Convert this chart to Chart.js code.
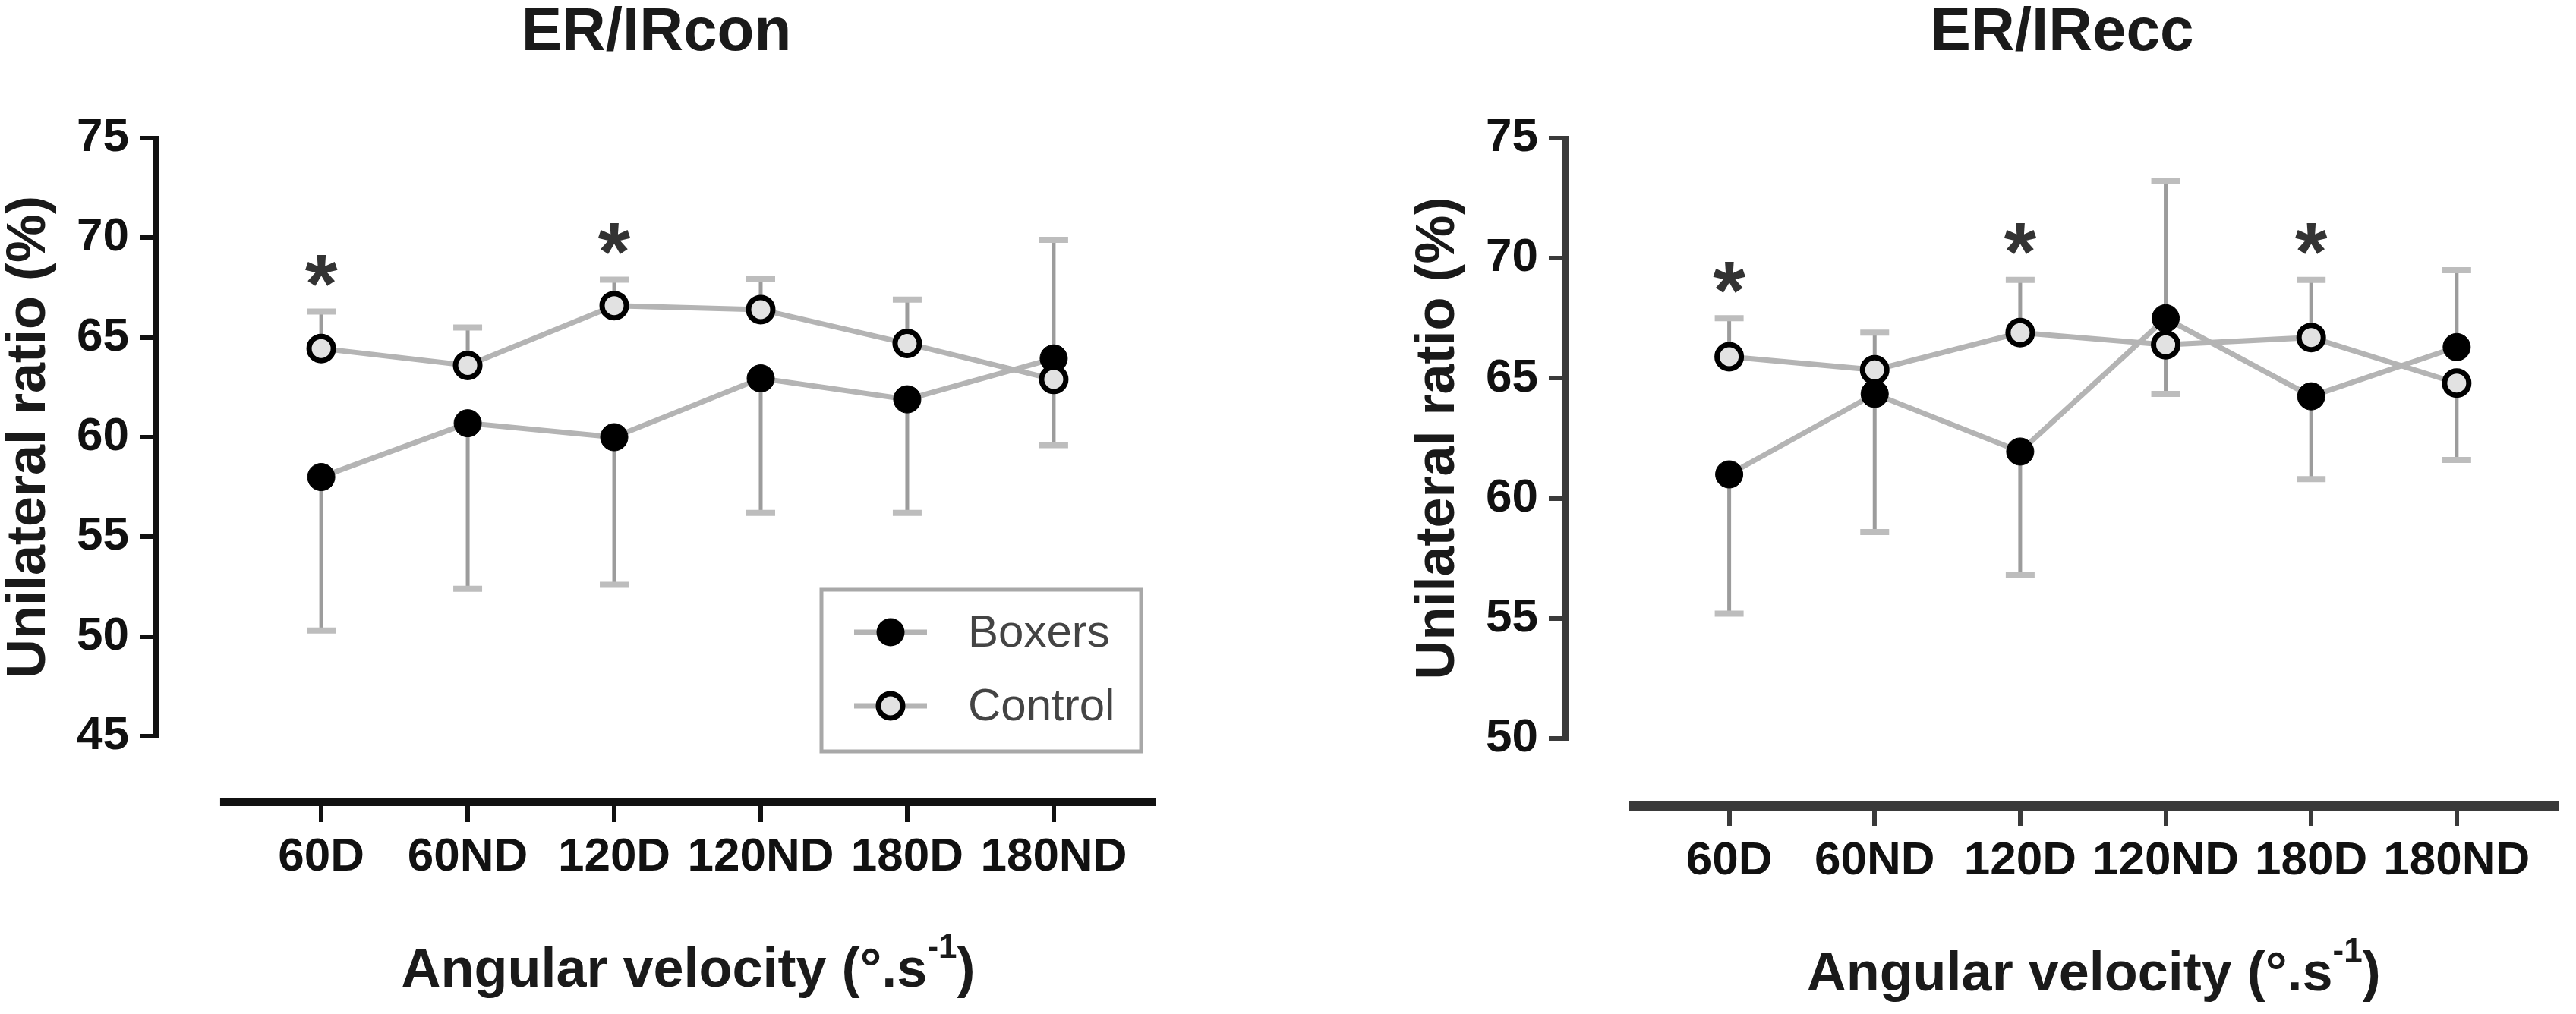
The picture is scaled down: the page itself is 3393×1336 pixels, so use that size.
<!DOCTYPE html>
<html>
<head>
<meta charset="utf-8">
<script src="https://cdn.jsdelivr.net/npm/chart.js@4.4.1/dist/chart.umd.min.js"></script>
<style>
  html, body { margin: 0; padding: 0; background: #fff; }
  #wrap { position: relative; width: 3393px; height: 1336px; }
  canvas { position: absolute; top: 0; }
</style>
</head>
<body>
<div id="wrap">
  <canvas id="conChart" width="1696" height="1336" style="left:0"></canvas>
  <canvas id="eccChart" width="1697" height="1336" style="left:1696px"></canvas>
</div>
<script>
const velocities = ['60D', '60ND', '120D', '120ND', '180D', '180ND'];
const yTicksCon = [45, 50, 55, 60, 65, 70, 75];
const yTicksEcc = [50, 55, 60, 65, 70, 75];

// ER/IR concentric
const boxersCon = [58.0, 60.7, 60.0, 62.95, 61.9, 63.95];
const boxersConErr = [50.3, 52.4, 52.6, 56.2, 56.2, 69.9];   // end of the error bar
const controlCon = [64.45, 63.6, 66.6, 66.4, 64.7, 62.9];
const controlConErr = [66.3, 65.5, 67.9, 67.95, 66.9, 59.6];
const sigCon = [true, false, true, false, false, false];

// ER/IR eccentric
const boxersEcc = [61.0, 64.35, 61.95, 67.5, 64.25, 66.3];
const boxersEccErr = [55.2, 58.6, 56.8, 73.2, 60.8, 69.5];
const controlEcc = [65.9, 65.35, 66.9, 66.4, 66.7, 64.8];
const controlEccErr = [67.5, 66.9, 69.1, 64.35, 69.1, 61.6];
const sigEcc = [true, false, true, false, true, false];

const FONT = '"Liberation Sans", Arial, sans-serif';
const LINE_GREY = '#b4b4b4';
const CONTROL_FILL = '#e2e2e2';

function drawMarker(ctx, x, y, filled) {
  ctx.save();
  ctx.beginPath();
  if (filled) {
    ctx.arc(x, y, 18.5, 0, Math.PI * 2);
    ctx.fillStyle = '#000';
    ctx.fill();
  } else {
    ctx.arc(x, y, 16, 0, Math.PI * 2);
    ctx.fillStyle = CONTROL_FILL;
    ctx.fill();
    ctx.lineWidth = 7;
    ctx.strokeStyle = '#000';
    ctx.stroke();
  }
  ctx.restore();
}

const figurePlugin = {
  id: 'figure',
  beforeDatasetsDraw(chart, args, o) {
    const ctx = chart.ctx, xs = chart.scales.x, ys = chart.scales.y;
    ctx.save();
    chart.data.datasets.forEach(ds => {
      ds.errorEnds.forEach((e, i) => {
        const px = xs.getPixelForValue(i);
        const p0 = ys.getPixelForValue(ds.data[i].y);
        const p1 = ys.getPixelForValue(e);
        ctx.strokeStyle = '#9c9c9c';
        ctx.lineWidth = 5;
        ctx.beginPath();
        ctx.moveTo(px, p0);
        ctx.lineTo(px, p1);
        ctx.stroke();
        ctx.strokeStyle = '#bdbdbd';
        ctx.lineWidth = 8;
        ctx.beginPath();
        ctx.moveTo(px - 19, p1);
        ctx.lineTo(px + 19, p1);
        ctx.stroke();
      });
    });
    ctx.restore();
  },
  afterDatasetsDraw(chart, args, o) {
    const ctx = chart.ctx, xs = chart.scales.x, ys = chart.scales.y;
    ctx.save();
    // significance stars
    ctx.font = 'bold 110px ' + FONT;
    ctx.fillStyle = '#333';
    ctx.textAlign = 'center';
    ctx.textBaseline = 'alphabetic';
    const m = ctx.measureText('*');
    o.sig.forEach((s, i) => {
      if (!s) return;
      let top = -Infinity;
      chart.data.datasets.forEach(ds => {
        top = Math.max(top, ds.data[i].y, ds.errorEnds[i]);
      });
      const cy = ys.getPixelForValue(top) - 54;
      const base = cy + (m.actualBoundingBoxAscent - m.actualBoundingBoxDescent) / 2;
      ctx.fillText('*', xs.getPixelForValue(i), base);
    });
    // legend
    if (o.legend) {
      const L = o.legend;
      ctx.strokeStyle = '#a8a8a8';
      ctx.lineWidth = 5;
      ctx.strokeRect(L.x1, L.y1, L.x2 - L.x1, L.y2 - L.y1);
      chart.data.datasets.forEach((ds, k) => {
        const y = L.rows[k];
        ctx.strokeStyle = LINE_GREY;
        ctx.lineWidth = 7;
        ctx.beginPath();
        ctx.moveTo(L.mx - 48, y);
        ctx.lineTo(L.mx + 48, y);
        ctx.stroke();
        drawMarker(ctx, L.mx, y, ds.label === 'Boxers');
        ctx.font = '60px ' + FONT;
        ctx.fillStyle = '#444';
        ctx.textAlign = 'left';
        ctx.textBaseline = 'middle';
        ctx.fillText(ds.label, L.tx, y + 2);
      });
    }
    ctx.restore();
  },
  afterDraw(chart, args, o) {
    const ctx = chart.ctx, xs = chart.scales.x, ys = chart.scales.y;
    const area = chart.chartArea;
    const yTop = ys.getPixelForValue(o.yTicks[o.yTicks.length - 1]);
    const yBot = ys.getPixelForValue(o.yTicks[0]);
    const xStart = xs.getPixelForValue(-0.69);
    const xEnd = xs.getPixelForValue(5.7);
    ctx.save();
    // y axis line
    ctx.strokeStyle = o.axisColor;
    ctx.lineWidth = 8;
    ctx.beginPath();
    ctx.moveTo(area.left, yTop - 3);
    ctx.lineTo(area.left, yBot + 3);
    ctx.stroke();
    // x axis line
    ctx.lineWidth = o.xAxisWidth;
    ctx.beginPath();
    ctx.moveTo(xStart, area.bottom);
    ctx.lineTo(xEnd, area.bottom);
    ctx.stroke();

    // chart title
    ctx.fillStyle = '#1a1a1a';
    ctx.textAlign = 'center';
    ctx.textBaseline = 'middle';
    ctx.font = 'bold 80px ' + FONT;
    ctx.fillText(o.title, (area.left + xEnd) / 2, 44);

    // y title
    ctx.save();
    ctx.translate(area.left - 167, (yTop + yBot) / 2);
    ctx.rotate(-Math.PI / 2);
    ctx.font = 'bold 72px ' + FONT;
    ctx.fillText('Unilateral ratio (%)', 0, 0);
    ctx.restore();

    // x title with superscript
    const main = 'Angular velocity (\u00B0.s', sup = '-1', tail = ')';
    ctx.font = 'bold 72px ' + FONT;
    const w1 = ctx.measureText(main).width, w3 = ctx.measureText(tail).width;
    ctx.font = 'bold 44px ' + FONT;
    const w2 = ctx.measureText(sup).width;
    let x = (xStart + xEnd) / 2 - (w1 + w2 + w3) / 2;
    const ty = area.bottom + 223;
    ctx.textAlign = 'left';
    ctx.font = 'bold 72px ' + FONT;
    ctx.fillText(main, x, ty);
    x += w1;
    ctx.font = 'bold 44px ' + FONT;
    ctx.fillText(sup, x, ty - 30);
    x += w2;
    ctx.font = 'bold 72px ' + FONT;
    ctx.fillText(tail, x, ty);
    ctx.restore();
  }
};

function makeChart(id, p) {
  const toPts = arr => arr.map((v, i) => ({ x: i, y: v }));
  return new Chart(document.getElementById(id), {
    type: 'line',
    data: {
      datasets: [
        {
          label: 'Boxers',
          data: toPts(p.boxers),
          errorEnds: p.boxersErr,
          borderColor: LINE_GREY,
          borderWidth: 7,
          pointRadius: 18,
          pointBorderWidth: 1,
          pointBackgroundColor: '#000',
          pointBorderColor: '#000',
          tension: 0,
          order: 2
        },
        {
          label: 'Control',
          data: toPts(p.control),
          errorEnds: p.controlErr,
          borderColor: LINE_GREY,
          borderWidth: 7,
          pointRadius: 16,
          pointBorderWidth: 7,
          pointBackgroundColor: CONTROL_FILL,
          pointBorderColor: '#000',
          tension: 0,
          order: 1
        }
      ]
    },
    options: {
      responsive: false,
      animation: false,
      devicePixelRatio: 1,
      events: [],
      layout: { padding: { top: 182, right: p.padRight, bottom: 0, left: 0 } },
      scales: {
        x: {
          type: 'linear',
          min: -1.125,
          max: 5.7,
          afterBuildTicks: s => { s.ticks = velocities.map((_, i) => ({ value: i })); },
          afterFit: s => { s.height = p.xHeight; },
          grid: { drawOnChartArea: false, drawTicks: true, tickLength: 26, lineWidth: 6, color: p.axisColor },
          border: { display: false },
          ticks: {
            callback: v => velocities[v],
            autoSkip: false,
            maxRotation: 0,
            padding: 10,
            color: '#111',
            font: { family: FONT, size: 62, weight: 'bold' }
          }
        },
        y: {
          min: p.yMin,
          max: 75,
          afterBuildTicks: s => { s.ticks = p.yTicks.map(v => ({ value: v })); },
          afterFit: s => { s.width = p.yWidth; },
          grid: { drawOnChartArea: false, drawTicks: true, tickLength: 22, lineWidth: 6, color: p.axisColor },
          border: { display: false },
          ticks: {
            padding: 14,
            color: '#111',
            font: { family: FONT, size: 62, weight: 'bold' }
          }
        }
      },
      plugins: {
        legend: { display: false },
        tooltip: { enabled: false },
        figure: {
          title: p.title,
          sig: p.sig,
          yTicks: p.yTicks,
          axisColor: p.axisColor,
          xAxisWidth: p.xAxisWidth,
          legend: p.legend
        }
      }
    },
    plugins: [figurePlugin]
  });
}

makeChart('conChart', {
  title: 'ER/IRcon',
  boxers: boxersCon, boxersErr: boxersConErr,
  control: controlCon, controlErr: controlConErr,
  sig: sigCon, yTicks: yTicksCon,
  yMin: 41.69, yWidth: 206, padRight: 173, xHeight: 279,
  axisColor: '#111', xAxisWidth: 10,
  legend: { x1: 1082, y1: 777, x2: 1503, y2: 990, mx: 1173, tx: 1275, rows: [833, 930] }
});

makeChart('eccChart', {
  title: 'ER/IRecc',
  boxers: boxersEcc, boxersErr: boxersEccErr,
  control: controlEcc, controlErr: controlEccErr,
  sig: sigEcc, yTicks: yTicksEcc,
  yMin: 47.19, yWidth: 366, padRight: 11, xHeight: 274,
  axisColor: '#3a3a3a', xAxisWidth: 12,
  legend: null
});
</script>
</body>
</html>
